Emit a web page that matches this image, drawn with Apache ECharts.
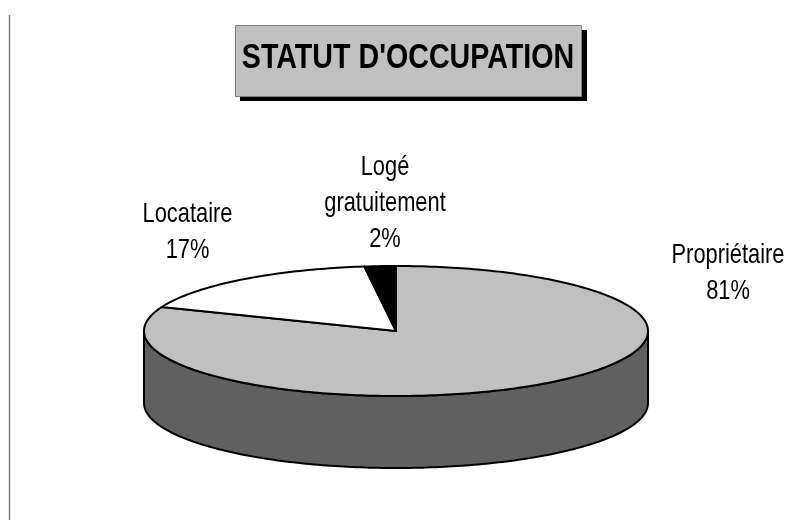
<!DOCTYPE html>
<html>
<head>
<meta charset="utf-8">
<title>Statut d'occupation</title>
<style>
  html, body { margin: 0; padding: 0; background: #fff; }
  #chart { width: 797px; height: 520px; }
</style>
<script src="https://cdn.jsdelivr.net/npm/echarts@6/dist/echarts.min.js"></script>
</head>
<body>
<div id="chart"></div>
<script>
var categories = ['Propriétaire', 'Locataire', 'Logé\ngratuitement'];
var shares = [81, 17, 2];
var titleText = "STATUT D'OCCUPATION";
var topColors = ['#c0c0c0', '#ffffff', '#000000'];
var sideColors = ['#606060', '#7f7f7f', '#000000'];

// label centres, picked by hand like the original sheet
var labelX = [728, 187.5, 385];
var labelY = [273, 232, 203];

var cx = 396, cy = 331, rx = 252, ry = 65, depth = 72;
var font = '"Liberation Sans", Arial, sans-serif';

var total = shares.reduce(function(a, b) { return a + b; }, 0);

function rimPoint(deg, dy) {
  var rad = deg * Math.PI / 180;
  return [cx + rx * Math.sin(rad), cy + dy - ry * Math.cos(rad)];
}

function renderSlice(params, api) {
  var i = params.dataIndex;
  var before = 0;
  for (var k = 0; k < i; k++) before += shares[k];
  var start = before / total * 360;
  var end = (before + api.value(0)) / total * 360;
  var children = [];

  // the wall only shows on the front half of the rim (90 to 270 degrees)
  var wallStart = Math.max(start, 90), wallEnd = Math.min(end, 270);
  if (wallEnd > wallStart) {
    var wall = [], d;
    for (d = wallStart; d < wallEnd; d += 1) wall.push(rimPoint(d, 0));
    wall.push(rimPoint(wallEnd, 0));
    for (d = wallEnd; d > wallStart; d -= 1) wall.push(rimPoint(d, depth));
    wall.push(rimPoint(wallStart, depth));
    children.push({
      type: 'polygon',
      shape: { points: wall },
      style: { fill: sideColors[i], stroke: '#000', lineWidth: 2, lineJoin: 'round' }
    });
  }

  var top = [[cx, cy]];
  for (var a = start; a < end; a += 1) top.push(rimPoint(a, 0));
  top.push(rimPoint(end, 0));
  children.push({
    type: 'polygon',
    shape: { points: top },
    style: { fill: topColors[i], stroke: '#000', lineWidth: 2, lineJoin: 'round' }
  });

  // no narrow font here, so squeeze the text sideways
  children.push({
    type: 'text',
    x: labelX[i],
    y: labelY[i],
    scaleX: 0.78,
    style: {
      text: categories[i] + '\n' + api.value(0) + '%',
      fill: '#000',
      font: '28px ' + font,
      lineHeight: 36,
      align: 'center',
      verticalAlign: 'middle'
    }
  });
  return { type: 'group', children: children };
}

var chart = echarts.init(document.getElementById('chart'), null, { renderer: 'canvas' });
chart.setOption({
  animation: false,
  backgroundColor: '#fff',
  graphic: [
    {
      type: 'line',
      shape: { x1: 9.5, y1: 15, x2: 9.5, y2: 520 },
      style: { stroke: '#808080', lineWidth: 1.5 }
    },
    {
      type: 'rect',
      shape: { x: 240, y: 30, width: 347, height: 71 },
      style: { fill: '#000' }
    },
    {
      type: 'rect',
      shape: { x: 235.5, y: 25.5, width: 346, height: 71 },
      style: { fill: '#c0c0c0', stroke: '#808080', lineWidth: 1 }
    },
    {
      type: 'text',
      x: 408,
      y: 58,
      scaleX: 0.818,
      style: {
        text: titleText,
        fill: '#000',
        font: 'bold 35px ' + font,
        align: 'center',
        verticalAlign: 'middle'
      }
    }
  ],
  series: [{
    type: 'custom',
    coordinateSystem: 'none',
    renderItem: renderSlice,
    data: shares.map(function(v) { return [v]; })
  }]
});
window.addEventListener('resize', function() { chart.resize(); });
</script>
</body>
</html>
